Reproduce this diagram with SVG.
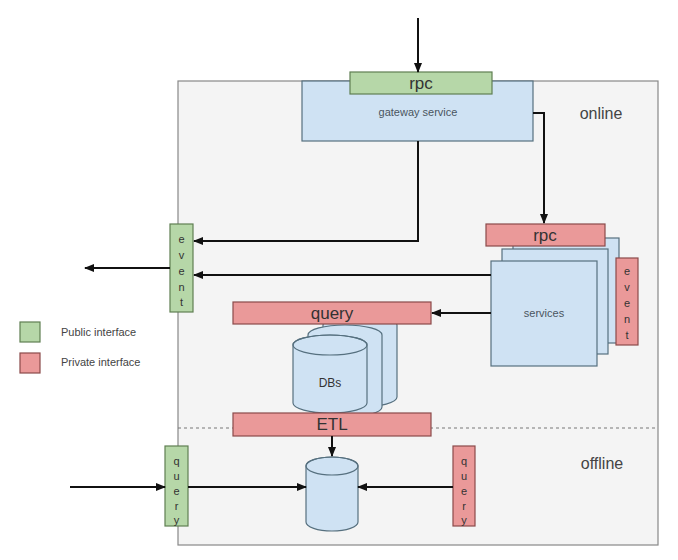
<svg xmlns="http://www.w3.org/2000/svg" width="678" height="560" viewBox="0 0 678 560">
<defs>
<marker id="ah" viewBox="0 0 10 10" refX="9" refY="5" markerWidth="10" markerHeight="10" markerUnits="userSpaceOnUse" orient="auto">
<path d="M0,1 L10,5 L0,9 z" fill="#111"/>
</marker>
<style>
.pub{fill:#b6d7a8;stroke:#5f7f52;stroke-width:1.2}
.priv{fill:#ea9999;stroke:#8a4a4a;stroke-width:1.2}
.svc{fill:#cfe2f3;stroke:#56707f;stroke-width:1.2}
.t{font-family:"Liberation Sans",Arial,sans-serif;fill:#333;text-anchor:middle}
.big{font-size:17px}
.sm{font-size:11px;fill:#4a5560}
.vt{font-size:11px}
.lbl{font-family:"Liberation Sans",Arial,sans-serif;font-size:16px;fill:#444}
.conn{stroke:#111;stroke-width:2;fill:none;marker-end:url(#ah)}
</style>
</defs>
<rect width="678" height="560" fill="#ffffff"/>
<g id="region">
<rect x="178" y="81" width="480" height="464" fill="#f4f4f4" stroke="#888" stroke-width="1.2"/>
<line x1="178" y1="428" x2="658" y2="428" stroke="#777" stroke-width="1" stroke-dasharray="3,3"/>
<text class="lbl" x="601" y="119" text-anchor="middle">online</text>
<text class="lbl" x="602" y="469" text-anchor="middle">offline</text>
</g>
<g id="gateway">
<rect class="svc" x="302" y="81" width="231" height="60"/>
<text class="t sm" x="418" y="116">gateway service</text>
</g>
<g id="gateway-rpc">
<rect class="pub" x="350" y="72" width="142" height="22"/>
<text class="t big" x="421" y="89">rpc</text>
</g>
<g id="services">
<rect class="svc" x="513" y="238" width="106" height="105"/>
<rect class="svc" x="502" y="249" width="106" height="105"/>
<rect class="svc" x="491" y="261" width="106" height="105"/>
<text class="t sm" x="544" y="317">services</text>
</g>
<g id="services-rpc">
<rect class="priv" x="486" y="224" width="119" height="22"/>
<text class="t big" x="545" y="241">rpc</text>
</g>
<g id="services-event">
<rect class="priv" x="616" y="258" width="22" height="87"/>
<text class="t vt" x="627" y="275">e</text>
<text class="t vt" x="627" y="291">v</text>
<text class="t vt" x="627" y="307">e</text>
<text class="t vt" x="627" y="323">n</text>
<text class="t vt" x="627" y="339">t</text>
</g>
<g id="public-event">
<rect class="pub" x="170" y="224" width="23" height="88"/>
<text class="t vt" x="181.5" y="243">e</text>
<text class="t vt" x="181.5" y="259">v</text>
<text class="t vt" x="181.5" y="275">e</text>
<text class="t vt" x="181.5" y="291">n</text>
<text class="t vt" x="181.5" y="306">t</text>
</g>
<g id="dbs">
<path class="svc" d="M323,325 a37,10 0 0 1 74,0 v72 a37,10 0 0 1 -74,0 z"/>
<path class="svc" d="M308,335 a37,10 0 0 1 74,0 v72 a37,10 0 0 1 -74,0 z"/>
<path class="svc" d="M293,345 a37,10 0 0 1 74,0 v58 a37,10 0 0 1 -74,0 z"/>
<ellipse cx="330" cy="345" rx="37" ry="10" fill="none" stroke="#56707f" stroke-width="1.2"/>
<text class="t" x="330" y="387" font-size="12" fill="#4a5560">DBs</text>
</g>
<g id="db-query">
<rect class="priv" x="233" y="302" width="198" height="22"/>
<text class="t big" x="332" y="319">query</text>
</g>
<g id="etl">
<rect class="priv" x="233" y="413" width="198" height="23"/>
<text class="t big" x="332" y="430">ETL</text>
</g>
<g id="offline-db">
<path class="svc" d="M306,466 a26,9 0 0 1 52,0 v56 a26,9 0 0 1 -52,0 z"/>
<ellipse cx="332" cy="466" rx="26" ry="9" fill="none" stroke="#56707f" stroke-width="1.2"/>
</g>
<g id="offline-public-query">
<rect class="pub" x="165" y="446" width="23" height="80"/>
<text class="t vt" x="176.5" y="465">q</text>
<text class="t vt" x="176.5" y="480">u</text>
<text class="t vt" x="176.5" y="495">e</text>
<text class="t vt" x="176.5" y="510">r</text>
<text class="t vt" x="176.5" y="524">y</text>
</g>
<g id="offline-private-query">
<rect class="priv" x="453" y="446" width="22" height="80"/>
<text class="t vt" x="464" y="465">q</text>
<text class="t vt" x="464" y="480">u</text>
<text class="t vt" x="464" y="495">e</text>
<text class="t vt" x="464" y="510">r</text>
<text class="t vt" x="464" y="524">y</text>
</g>
<g id="legend">
<rect class="pub" x="20" y="322" width="20" height="20"/>
<text x="61" y="336" font-family="Liberation Sans,Arial,sans-serif" font-size="11" fill="#444">Public interface</text>
<rect class="priv" x="20" y="353" width="20" height="20"/>
<text x="61" y="366" font-family="Liberation Sans,Arial,sans-serif" font-size="11" fill="#444">Private interface</text>
</g>
<g id="connectors">
<path class="conn" d="M418,18 V72"/>
<path class="conn" d="M533,113 H544 V223"/>
<path class="conn" d="M418,141 V241 H194"/>
<path class="conn" d="M491,275 H194"/>
<path class="conn" d="M170,268 H85"/>
<path class="conn" d="M491,313 H432"/>
<path class="conn" d="M332,436 V456"/>
<path class="conn" d="M70,487 H165"/>
<path class="conn" d="M188,487 H306"/>
<path class="conn" d="M453,487 H358"/>
</g>
</svg>
